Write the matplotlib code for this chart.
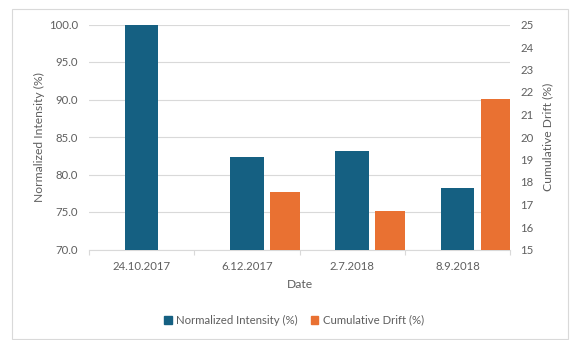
import numpy as np
import matplotlib
matplotlib.use("Agg")
import matplotlib.pyplot as plt
from matplotlib.patches import Rectangle
from matplotlib.ticker import FormatStrFormatter, MultipleLocator

dates = ["24.10.2017", "6.12.2017", "2.7.2018", "8.9.2018"]
intensity = [100.0, 82.4, 83.2, 78.2]
drift = [np.nan, 17.55, 16.7, 21.7]

BLUE = "#156082"
ORANGE = "#E97132"
TEXT = "#5f5f5f"
GRID = "#D9D9D9"

plt.rcParams["font.family"] = ["Lato", "DejaVu Sans"]

fig = plt.figure(figsize=(5.71, 3.40), dpi=100)
fig.patch.set_facecolor("white")
# thin frame round the whole chart
fig.add_artist(Rectangle((12 / 571, 1 / 340), 556 / 571, 330 / 340,
                         transform=fig.transFigure, fill=False,
                         edgecolor=GRID, linewidth=0.8))

ax = fig.add_axes([89 / 571, 90.5 / 340, 421 / 571, 225 / 340])
ax2 = ax.twinx()

x = np.arange(len(dates))
ax.bar(x, intensity, width=0.32, color=BLUE, zorder=3,
       label="Normalized Intensity (%)")
ax2.bar(x + 0.36, drift, width=0.28, color=ORANGE, zorder=3,
        label="Cumulative Drift (%)")

ax.set_xlim(-0.5, len(dates) - 0.5)
ax.set_ylim(70, 100)
ax2.set_ylim(15, 25)
ax.yaxis.set_major_locator(MultipleLocator(5))
ax.yaxis.set_major_formatter(FormatStrFormatter("%.1f"))
ax2.yaxis.set_major_locator(MultipleLocator(1))

ax.grid(axis="y", color=GRID, linewidth=0.8, zorder=0)
ax.set_axisbelow(True)

for a in (ax, ax2):
    for s in a.spines.values():
        s.set_visible(False)
ax.spines["bottom"].set_visible(True)
ax.spines["bottom"].set_color(GRID)
ax.spines["bottom"].set_linewidth(0.8)

ax.set_xticks(x)
ax.set_xticklabels(dates)
ax.set_xticks(np.arange(-0.5, len(dates)), minor=True)
ax.tick_params(axis="x", which="major", length=0, pad=8.5, labelsize=8.2,
               labelcolor=TEXT)
ax.tick_params(axis="x", which="minor", length=3.5, color=GRID, width=0.8)
ax.tick_params(axis="y", length=0, pad=8, labelsize=8.2, labelcolor=TEXT)
ax2.tick_params(axis="y", length=0, pad=7.5, labelsize=8.2, labelcolor=TEXT)

ax.set_xlabel("Date", fontsize=8.7, color=TEXT, labelpad=5)
ax.set_ylabel("Normalized Intensity (%)", fontsize=8.7, color=TEXT, labelpad=3)
ax2.set_ylabel("Cumulative Drift (%)", fontsize=8.7, color=TEXT, labelpad=6)

handles = [Rectangle((0, 0), 1, 1, color=BLUE),
           Rectangle((0, 0), 1, 1, color=ORANGE)]
fig.legend(handles, ["Normalized Intensity (%)", "Cumulative Drift (%)"],
           loc="center", bbox_to_anchor=(294 / 571, 1 - 320 / 340),
           ncol=2, frameon=False, fontsize=8.2, labelcolor=TEXT,
           handlelength=0.7, handleheight=0.7, handletextpad=0.4,
           columnspacing=1.1)

fig.savefig("out.png", dpi=100, facecolor="white")
